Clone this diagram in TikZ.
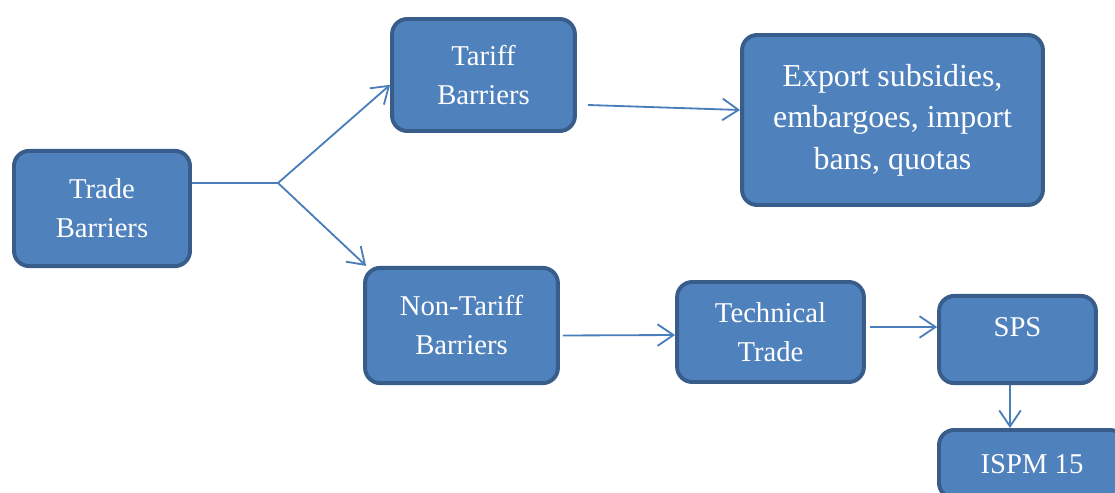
\documentclass[tikz,border=0pt]{standalone}
\usepackage{fontspec}
\setmainfont{Liberation Serif}
\usepackage{tikz}
\usetikzlibrary{calc}
\usetikzlibrary{arrows, arrows.meta}
\definecolor{boxfill}{HTML}{4F81BD}
\definecolor{boxline}{HTML}{385D8A}
\definecolor{linkcol}{HTML}{4A7EBB}
\tikzset{
	barrier/.style={draw=boxline, line width=2.8pt, fill=boxfill, rounded corners=0.38cm,
		text=white, align=center, font=\fontsize{20.4}{27.7}\selectfont},
	link/.style={draw=linkcol, line width=1.3pt, -{Straight Barb[length=0.4cm, width=0.54cm]}}
}

\begin{document}
\begin{tikzpicture}[x=0.025cm, y=-0.025cm]
	\clip (0,0) rectangle (1115,492);
	
	%boxes
	\node[barrier, minimum width=4.4cm, minimum height=2.88cm] (trade) at (102,208.5) {Trade\\Barriers};
	\node[barrier, minimum width=4.57cm, minimum height=2.8cm] (tariff) at (483.5,75) {Tariff\\Barriers};
	\node[barrier, minimum width=7.52cm, minimum height=4.25cm, font=\fontsize{22.7}{29.5}\selectfont] (export) at (892.5,120) {Export subsidies,\\embargoes, import\\bans, quotas};
	\node[barrier, minimum width=4.82cm, minimum height=2.88cm] (nontariff) at (461.5,325.5) {Non-Tariff\\Barriers};
	\node[barrier, minimum width=4.67cm, minimum height=2.5cm] (technical) at (770.5,332) {Technical\\Trade};
	\node[barrier, minimum width=3.92cm, minimum height=2.18cm, text depth=0.6cm] (sps) at (1017.5,339.5) {SPS};
	\node[barrier, minimum width=4.65cm, minimum height=1.7cm, anchor=north] (ispm) at (1032,428) {ISPM 15};
	
	%fork out of the first box
	\coordinate (fork) at (278,183);
	\draw[draw=linkcol, line width=1.3pt] (trade.east |- fork) -- (fork);
	\draw[link] (fork) -- (tariff.186);
	\draw[link] (fork) -- (nontariff.148);
	
	%arrows between the boxes
	\draw[link] ($(tariff.east)+(11,30)$) -- ($(export.west)+(0,-10)$);
	\draw[link] ($(nontariff.east)+(3,10)$) -- ($(technical.west)+(0,3)$);
	\draw[link] ($(technical.east)+(4,-5)$) -- ($(sps.west)+(0,-12.5)$);
	\draw[link] ($(sps.south)+(-7.5,0)$) -- ($(ispm.north)+(-22,0)$);
\end{tikzpicture}
\end{document}
